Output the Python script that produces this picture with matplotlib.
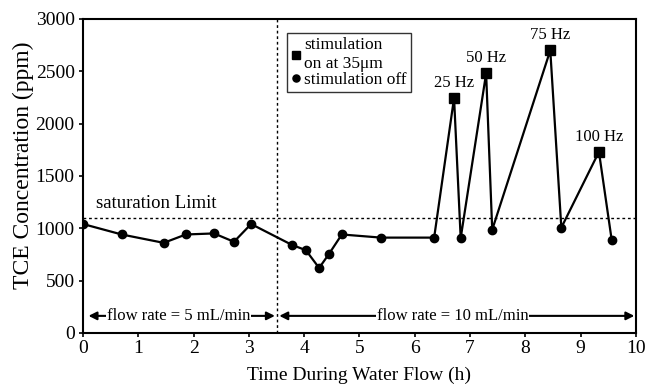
import numpy as np
import matplotlib
matplotlib.use('Agg')
import matplotlib.pyplot as plt

plt.rcParams['font.family'] = ['Liberation Serif', 'DejaVu Serif']

# data
time = [0.0, 0.7, 1.46, 1.86, 2.37, 2.73, 3.04, 3.78, 4.03, 4.27, 4.45, 4.68,
        5.39, 6.35, 6.71, 6.83, 7.29, 7.40, 8.45, 8.65, 9.33, 9.56]
tce = [1040, 940, 860, 940, 950, 870, 1040, 840, 790, 620, 755, 940,
       910, 910, 2245, 905, 2480, 985, 2700, 1005, 1730, 890]
stim_on = [0, 0, 0, 0, 0, 0, 0, 0, 0, 0, 0, 0,
           0, 0, 1, 0, 1, 0, 1, 0, 1, 0]
freq_labels = ['25 Hz', '50 Hz', '75 Hz', '100 Hz']
saturation = 1100
switch_time = 3.5

time = np.array(time)
tce = np.array(tce)
on = np.array(stim_on) == 1

fig = plt.figure(figsize=(6.56, 3.87), dpi=100)
ax = fig.add_axes([0.1265, 0.14, 0.843, 0.811])

ax.plot(time, tce, color='black', linewidth=1.6, zorder=3)
sq, = ax.plot(time[on], tce[on], 's', color='black', markersize=6.5, zorder=4,
              linestyle='none', label='stimulation\non at 35\u03bcm')
ci, = ax.plot(time[~on], tce[~on], 'o', color='black', markersize=6, zorder=4,
              linestyle='none', label='stimulation off')

# frequency labels above the squares
for xx, yy, lab in zip(time[on], tce[on], freq_labels):
    ax.text(xx, yy + 70, lab, ha='center', va='bottom', fontsize=12)

ax.axhline(saturation, color='black', linestyle=(0, (2, 2)), linewidth=1)
ax.axvline(switch_time, color='black', linestyle=(0, (2, 2)), linewidth=1)
ax.text(0.23, saturation + 55, 'saturation Limit', fontsize=13.5, va='bottom')

# flow rate arrows
arr_y = 162
ax.annotate('', xy=(0.1, arr_y), xytext=(3.47, arr_y),
            arrowprops=dict(arrowstyle='<|-|>', color='black', lw=1.5,
                            mutation_scale=12, shrinkA=0, shrinkB=0))
ax.text(1.73, arr_y, 'flow rate = 5 mL/min', ha='center', va='center', fontsize=12,
        bbox=dict(facecolor='white', edgecolor='none', pad=0.5))
ax.annotate('', xy=(3.55, arr_y), xytext=(9.97, arr_y),
            arrowprops=dict(arrowstyle='<|-|>', color='black', lw=1.5,
                            mutation_scale=12, shrinkA=0, shrinkB=0))
ax.text(6.69, arr_y, 'flow rate = 10 mL/min', ha='center', va='center', fontsize=12,
        bbox=dict(facecolor='white', edgecolor='none', pad=0.5))

ax.set_xlim(0, 10)
ax.set_ylim(0, 3000)
ax.set_xticks(range(0, 11))
ax.set_yticks(range(0, 3001, 500))
ax.tick_params(labelsize=14, direction='out', length=3, width=1.2, pad=2)
ax.tick_params(axis='y', pad=3)
for s in ax.spines.values():
    s.set_linewidth(1.5)

ax.set_xlabel('Time During Water Flow (h)', fontsize=14, labelpad=7)
ax.set_ylabel('TCE Concentration (ppm)', fontsize=17)
ax.yaxis.set_label_coords(-0.089, 0.535)

leg = ax.legend(handles=[sq, ci], loc='upper left', bbox_to_anchor=(0.369, 0.955),
                fontsize=12.5, frameon=True, fancybox=False, edgecolor='black',
                handlelength=0.5, handletextpad=0.25, borderpad=0.25,
                borderaxespad=0, labelspacing=0.0, markerscale=0.85)
leg.get_frame().set_linewidth(1)

fig.savefig('out.png', dpi=100)
